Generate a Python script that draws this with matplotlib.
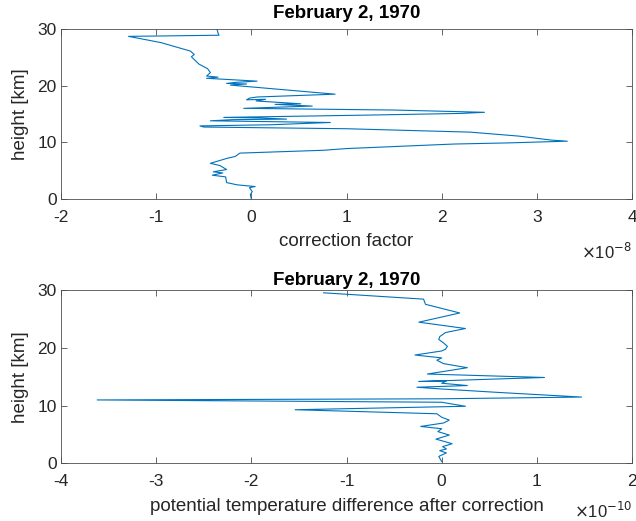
import numpy as np
import matplotlib
matplotlib.use("Agg")
import matplotlib.pyplot as plt

plt.rcParams['font.family'] = ['Liberation Sans', 'DejaVu Sans']
plt.rcParams['axes.unicode_minus'] = False

title = "February 2, 1970"

# Top panel: correction factor (x 1e-8) vs height [km]
top_h = [29.9, 29.3, 28.9, 28.7, 27.6, 26.1, 25.5, 25.1, 23.8, 23.0, 22.3, 21.7, 21.5, 21.3,
         20.8, 20.6, 20.4, 20.3, 20.1, 18.5, 18.0, 17.8, 17.5, 17.6, 17.3, 16.8, 16.7, 16.4,
         16.0, 15.7, 15.3, 15.1, 14.8, 14.4, 14.3, 14.1, 14.0, 13.8, 13.5, 13.1, 12.9, 12.7,
         12.4, 11.8, 11.1, 10.4, 10.2, 9.9, 9.7, 8.9, 8.6, 8.1, 7.5, 7.2, 6.3, 5.9, 5.2, 4.8,
         4.6, 4.2, 3.9, 2.9, 2.5, 2.2, 2.0, 1.3, 0.8, 0.0]
top_v = [-0.36, -0.35, -0.34, -1.29, -0.95, -0.64, -0.60, -0.63, -0.55, -0.46, -0.43, -0.47, -0.35, -0.47,
         0.06, -0.15, -0.26, -0.05, -0.22, 0.88, 0.06, -0.02, -0.05, 0.15, 0.05, 0.52, 0.25, 0.64,
         -0.08, 1.5, 2.45, 2.2, 1.2, -0.29, 0.1, 0.37, -0.2, -0.43, 0.83, 0.2, -0.54, -0.5,
         1.0, 2.3, 2.81, 3.15, 3.32, 2.7, 2.13, 1.0, 0.76, -0.12, -0.17, -0.25, -0.43, -0.33, -0.26, -0.40,
         -0.30, -0.41, -0.27, -0.26, -0.15, 0.04, -0.02, 0.01, -0.01, 0.0]

# Bottom panel: potential temperature difference (x 1e-10) vs height [km]
bot_h = [29.6, 28.5, 27.6, 27.1, 26.1, 24.5, 23.4, 22.7, 22.0, 21.5, 20.9, 20.3, 19.8, 19.5,
         18.8, 18.3, 17.9, 17.3, 16.6, 15.5, 14.9, 14.2, 14.3, 13.9, 13.5, 13.2, 12.9, 12.3,
         11.5, 11.2, 11.0, 10.6, 9.9, 9.3, 8.6, 8.0, 7.5, 7.0, 6.4, 6.0, 5.5, 4.9, 4.2, 3.4,
         2.9, 2.5, 2.2, 1.8, 1.2, 0.3]
bot_v = [-1.24, -0.19, -0.17, -0.05, 0.19, -0.24, 0.25, 0.04, -0.02, -0.03, 0.02, 0.06, 0.04, 0.0,
         -0.28, 0.0, -0.05, 0.02, 0.27, -0.15, 1.08, -0.24, 0.05, 0.0, 0.27, -0.26, 0.0, 0.6,
         1.47, 0.0, -3.62, 0.0, 0.25, -1.54, -0.05, 0.0, 0.08, 0.02, -0.22, 0.0, -0.04, 0.08, -0.06, 0.11,
         0.01, 0.05, -0.02, 0.05, -0.03, 0.0]

line_color = '#0072BD'
spine_color = '#4d4d4d'
text_color = '#262626'

fig = plt.figure(figsize=(6.36, 5.21), dpi=100)
ax1 = fig.add_axes([61/636, 1-199/521, 571/636, 170/521])
ax2 = fig.add_axes([61/636, 1-463.3/521, 571/636, 172.8/521])

def style(ax, xlim, xlabel, expo, offy, tpad):
    ax.set_xlim(*xlim)
    ax.set_ylim(0, 30)
    ax.set_yticks([0, 10, 20, 30])
    ax.set_xticks(np.arange(xlim[0], xlim[1] + 1, 1))
    ax.tick_params(direction='in', top=True, right=True, length=4, width=0.6,
                   color=spine_color, labelsize=12.5, labelcolor=text_color)
    ax.tick_params(axis='x', pad=8)
    ax.tick_params(axis='y', pad=3)
    for s in ax.spines.values():
        s.set_color(spine_color)
        s.set_linewidth(0.6)
    ax.set_title(title, fontsize=13.5, fontweight='bold', pad=tpad, color='black')
    ax.set_ylabel("height [km]", fontsize=13.5, color=text_color, labelpad=6)
    ax.set_xlabel(xlabel, fontsize=13.5, color=text_color, labelpad=6)
    ax.text(1.0, offy, r'$\times$10$^{%d}$' % expo, transform=ax.transAxes,
            ha='right', va='center', fontsize=12, color=text_color)

ax1.plot(top_v, top_h, color=line_color, lw=0.8)
style(ax1, (-2, 4), "correction factor", -8, -0.31, 8)

ax2.plot(bot_v, bot_h, color=line_color, lw=0.8)
style(ax2, (-4, 2), "potential temperature difference after correction", -10, -0.275, 4)

fig.savefig("out.png", dpi=100)
